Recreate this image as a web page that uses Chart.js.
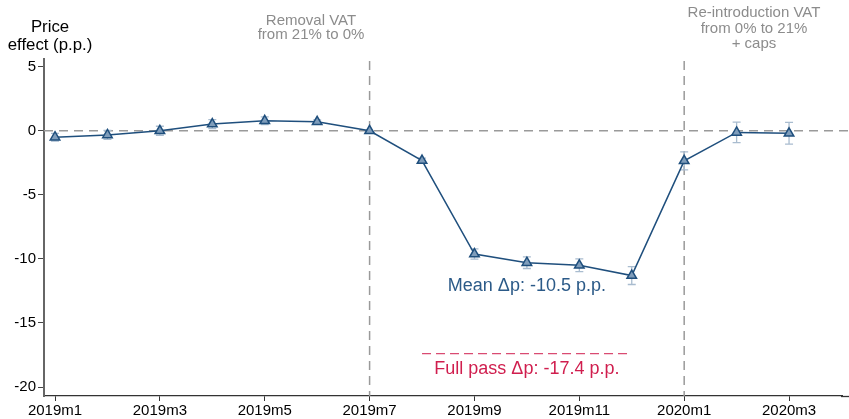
<!DOCTYPE html>
<html lang="en">
  <head>
    <meta charset="UTF-8" />
    <title>Price effect of VAT removal</title>
    <script src="https://cdn.jsdelivr.net/npm/chart.js@4"></script>
    <style>
      body { margin: 0; background: #fff; }
      #wrap { width: 849px; height: 419px; }
    </style>
  </head>
  <body>
    <div id="wrap"><canvas id="chart" width="849" height="419"></canvas></div>
    <script>
      // months on the x axis (index 0 = 2019m1)
      const months = ["2019m1", "2019m2", "2019m3", "2019m4", "2019m5", "2019m6", "2019m7",
        "2019m8", "2019m9", "2019m10", "2019m11", "2019m12", "2020m1", "2020m2", "2020m3"];
      const effect = [-0.5, -0.33, 0.0, 0.52, 0.78, 0.7, 0.0, -2.33, -9.62, -10.3, -10.5, -11.3, -2.35, -0.13, -0.2];
      const ciHalf = [0.3, 0.35, 0.35, 0.35, 0.3, 0.15, 0.0, 0.2, 0.4, 0.45, 0.5, 0.7, 0.7, 0.8, 0.85];
      const xTicks = [0, 2, 4, 6, 8, 10, 12, 14];
      const yTicks = [5, 0, -5, -10, -15, -20];
      const eventMonths = [6, 12];
      const meanEffect = -10.5;
      const fullPass = -17.4;
      const fullPassRange = [7, 11];

      const gray = "#8c8c8c";
      const navy = "#1f4f7d";

      const overlay = {
        id: "overlay",
        beforeDatasetsDraw(chart) {
          const { ctx, chartArea: a, scales: { x, y } } = chart;
          ctx.save();
          ctx.lineWidth = 1.5;
          ctx.strokeStyle = "#9a9a9a";
          ctx.setLineDash([9, 6]);
          ctx.beginPath();
          ctx.moveTo(a.left, y.getPixelForValue(0));
          ctx.lineTo(849, y.getPixelForValue(0));
          eventMonths.forEach(m => {
            const px = x.getPixelForValue(m);
            ctx.moveTo(px, a.top + 2);
            ctx.lineTo(px, a.bottom);
          });
          ctx.stroke();

          ctx.strokeStyle = "#d01e4e";
          ctx.lineWidth = 1;
          ctx.setLineDash([9, 5]);
          ctx.beginPath();
          ctx.moveTo(x.getPixelForValue(fullPassRange[0]), y.getPixelForValue(fullPass));
          ctx.lineTo(x.getPixelForValue(fullPassRange[1]), y.getPixelForValue(fullPass));
          ctx.stroke();

          // error bars
          ctx.setLineDash([]);
          ctx.strokeStyle = "#a9bccf";
          ctx.lineWidth = 1.3;
          effect.forEach((v, i) => {
            if (!ciHalf[i]) return;
            const px = x.getPixelForValue(i);
            const t = y.getPixelForValue(v + ciHalf[i]);
            const b = y.getPixelForValue(v - ciHalf[i]);
            ctx.beginPath();
            ctx.moveTo(px, t); ctx.lineTo(px, b);
            ctx.moveTo(px - 4, t); ctx.lineTo(px + 4, t);
            ctx.moveTo(px - 4, b); ctx.lineTo(px + 4, b);
            ctx.stroke();
          });
          ctx.restore();
        },
        afterDraw(chart) {
          const { ctx, chartArea: a, scales: { x, y } } = chart;
          ctx.save();
          // extend the x axis line to the canvas edge
          ctx.strokeStyle = "#333";
          ctx.lineWidth = 1.3;
          ctx.beginPath();
          ctx.moveTo(a.right - 1, a.bottom + 0.5);
          ctx.lineTo(849, a.bottom + 0.5);
          ctx.stroke();

          ctx.textAlign = "center";
          ctx.textBaseline = "middle";

          ctx.fillStyle = "#000";
          ctx.font = "16.8px 'Liberation Sans', Arial, sans-serif";
          ctx.fillText("Price", 50, 27);
          ctx.fillText("effect (p.p.)", 50, 45);

          ctx.fillStyle = gray;
          ctx.font = "15px 'Liberation Sans', Arial, sans-serif";
          ctx.fillText("Removal VAT", 311, 21);
          ctx.fillText("from 21% to 0%", 311, 35);
          ctx.fillText("Re-introduction VAT", 754, 13);
          ctx.fillText("from 0% to 21%", 754, 29);
          ctx.fillText("+ caps", 754, 44);

          const cx = (x.getPixelForValue(fullPassRange[0]) + x.getPixelForValue(fullPassRange[1])) / 2;
          ctx.font = "18px 'Liberation Sans', Arial, sans-serif";
          ctx.fillStyle = "#2b5a88";
          ctx.fillText("Mean \u0394p: " + meanEffect.toFixed(1) + " p.p.", cx, y.getPixelForValue(-12.15));
          ctx.fillStyle = "#d01e4e";
          ctx.fillText("Full pass \u0394p: " + fullPass.toFixed(1) + " p.p.", cx, y.getPixelForValue(-18.6));
          ctx.restore();
        }
      };

      const font = { family: "'Liberation Sans', Arial, sans-serif", size: 15 };

      new Chart(document.getElementById("chart"), {
        type: "line",
        data: {
          datasets: [{
            data: effect.map((v, i) => ({ x: i, y: v })),
            borderColor: navy,
            borderWidth: 1.5,
            pointStyle: "triangle",
            pointRadius: 5.5,
            pointBorderWidth: 1.5,
            pointBackgroundColor: "#7f9dbb",
            pointBorderColor: navy,
            tension: 0
          }]
        },
        options: {
          responsive: false,
          animation: false,
          layout: { padding: { top: 59, left: 0, right: 0, bottom: 0 } },
          plugins: { legend: { display: false }, tooltip: { enabled: false } },
          scales: {
            x: {
              type: "linear",
              min: -0.21,
              max: 15.01,
              afterBuildTicks: axis => { axis.ticks = xTicks.map(v => ({ value: v })); },
              afterFit: axis => { axis.height = 23; },
              ticks: {
                font, color: "#000", padding: 1, maxRotation: 0, autoSkip: false,
                callback: v => months[v]
              },
              grid: { drawOnChartArea: false, drawTicks: true, tickLength: 5, color: "#333" },
              border: { display: true, color: "#333", width: 1.3 }
            },
            y: {
              min: -20.7,
              max: 5.6,
              afterBuildTicks: axis => { axis.ticks = yTicks.map(v => ({ value: v })); },
              afterFit: axis => { axis.width = 44; },
              ticks: { font, color: "#000", padding: 2 },
              grid: { drawOnChartArea: false, drawTicks: true, tickLength: 6, color: "#444" },
              border: { display: true, color: "#666", width: 2 }
            }
          }
        },
        plugins: [overlay]
      });
    </script>
  </body>
</html>
